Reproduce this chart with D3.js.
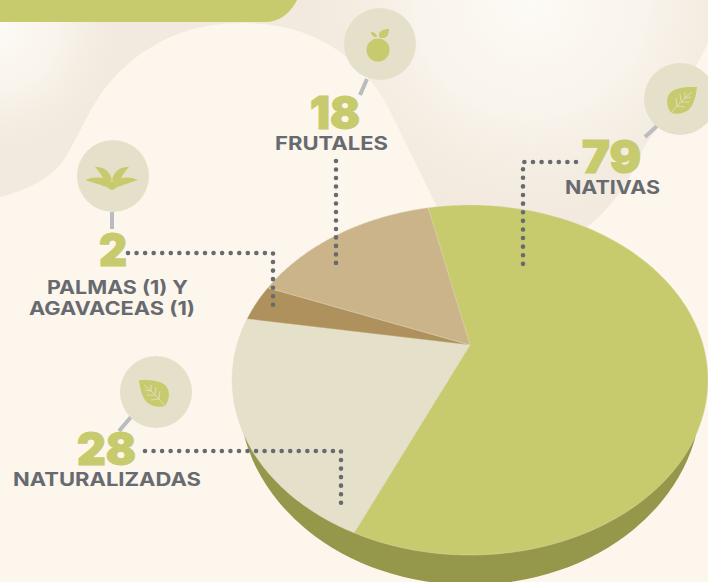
<!DOCTYPE html>
<html>
<head>
<meta charset="utf-8">
<script src="https://cdn.jsdelivr.net/npm/d3@7"></script>
<style>
html, body { margin: 0; padding: 0; background: #fdf6ed; overflow: hidden; }
svg { display: block; }
</style>
</head>
<body>
<svg id="chart" width="708" height="582"></svg>
<script>
const categories = ["NATIVAS", "NATURALIZADAS", "PALMAS", "FRUTALES"];
const labelValues = [79, 28, 2, 18];
// the slices as drawn, the artwork does not follow the counts exactly
const sliceShares = [60.1, 20.9, 3.4, 15.6];
const sliceColors = ["#c7ca6d", "#e5e0ca", "#ae915c", "#ccb48a"];

const numberBoxes = [[582, 641, 173], [77, 136, 465], [99, 127, 266], [310, 360, 129]]; // x0, x1, baseline
const labelLines = [
    [["NATIVAS", 565, 660, 194]],
    [["NATURALIZADAS", 13, 201, 486]],
    [["PALMAS (1) Y", 47, 188, 294], ["AGAVACEAS (1)", 29, 195, 315]],
    [["FRUTALES", 275, 388, 150]]
];
const leaders = [
    [[576, 162], [523, 162], [523, 264]],
    [[145, 451], [341, 451], [341, 503]],
    [[128, 253], [273, 253], [273, 305]],
    [[336, 161], [336, 263]]
];
const leaderGaps = [18, 29, 23, 12]; // dots along each leader, minus one
const iconSpots = [[680, 99], [156, 392], [113, 176], [380, 44]];
const stems = [[657, 126, 645, 137], [131, 417, 119, 431], [112, 212, 112, 229], [367, 79, 360, 95]];

const svg = d3.select("#chart");
const defs = svg.append("defs");

// background
const blob = "M0,0 L708,0 L708,43 C690,80 660,125 644,147 C630,180 615,205 587,227 L450,230 " +
    "C440,215 410,150 387,105 C365,65 320,22 240,23 C170,23 125,60 100,95 " +
    "C85,118 72,150 60,165 C45,182 20,192 0,197 Z";

function addGlow(id, cx, cy, r) {
    let g = defs.append("radialGradient").attr("id", id)
        .attr("gradientUnits", "userSpaceOnUse")
        .attr("cx", cx).attr("cy", cy).attr("r", r);
    g.append("stop").attr("offset", "0").attr("stop-color", "#fdfbf6").attr("stop-opacity", 1);
    g.append("stop").attr("offset", "0.5").attr("stop-color", "#fbf7f0").attr("stop-opacity", 0.75);
    g.append("stop").attr("offset", "1").attr("stop-color", "#f3ebdf").attr("stop-opacity", 0);
}
addGlow("glow_mid", 530, 0, 235);
addGlow("glow_left", -5, 28, 130);

svg.append("path").attr("d", blob).style("fill", "#f2eade");
svg.append("path").attr("d", blob).style("fill", "url(#glow_mid)");
svg.append("path").attr("d", blob).style("fill", "url(#glow_left)");

svg.append("path")
    .attr("d", "M0,0 L297,0 C290,14 279,22 265,22 L0,22 Z")
    .style("fill", "#c7ca6d");

// pie, a circle seen in perspective: apex sits above the middle of the ellipse
const pieX = 470, apexY = 345, sideR = 233.2, depthR = 99, tilt = -0.2;

function project(a) {
    let x = Math.sin(a), y = -Math.cos(a);
    let w = 1 + tilt * y;
    return [pieX + sideR * x / w, (apexY + depthR * y) / w];
}

svg.append("ellipse")
    .attr("cx", 470).attr("cy", 396).attr("rx", 231).attr("ry", 189)
    .style("fill", "#95974a");

const pie = d3.pie().sort(null)
    .startAngle(-12.4 * Math.PI / 180)
    .endAngle((360 - 12.4) * Math.PI / 180);
const line = d3.line();

function slicePath(d) {
    let steps = Math.ceil((d.endAngle - d.startAngle) / 0.01);
    let pts = [[pieX, apexY]];
    for (let i = 0; i <= steps; i++)
        pts.push(project(d.startAngle + (d.endAngle - d.startAngle) * i / steps));
    return line(pts) + "Z";
}

svg.append("g").selectAll("path")
    .data(pie(sliceShares))
    .join("path")
    .attr("d", slicePath)
    .style("fill", (d, i) => sliceColors[i])
    .style("stroke", "#e9e3c9")
    .style("stroke-width", 0.4);

// dotted leaders, spacing fitted so the last dot lands on the end of the path
function leaderLength(pts) {
    let len = 0;
    for (let i = 1; i < pts.length; i++)
        len += Math.abs(pts[i][0] - pts[i - 1][0]) + Math.abs(pts[i][1] - pts[i - 1][1]);
    return len;
}

svg.append("g").selectAll("path")
    .data(leaders)
    .join("path")
    .attr("d", d => line(d))
    .style("fill", "none")
    .style("stroke", "#676b6f")
    .style("stroke-width", 4.6)
    .style("stroke-linecap", "round")
    .style("stroke-dasharray", (d, i) => "0 " + (leaderLength(d) / leaderGaps[i] * 0.999));

// icon stems and discs
svg.append("g").selectAll("line")
    .data(stems)
    .join("line")
    .attr("x1", d => d[0]).attr("y1", d => d[1])
    .attr("x2", d => d[2]).attr("y2", d => d[3])
    .style("stroke", "#b9bdbf")
    .style("stroke-width", 4);

svg.append("g").selectAll("circle")
    .data(iconSpots)
    .join("circle")
    .attr("cx", d => d[0]).attr("cy", d => d[1]).attr("r", 36)
    .style("fill", "#e5e0ca");

// icons
const leafShape = "M17,-12 C7,-12 -4,-12 -10,-6 C-14,-1 -14,7 -9,14 C-2,16 7,14 11,8 C15,2 16,-5 17,-12 Z";
const leafVeins = "M-9,14 C-3,7 4,-1 12,-7 M-3,7 L-4,-1 M1,2 L0,-5 M5,-1 L5,-7 M-3,7 L5,8 M1,3 L9,3 M5,-1 L11,-2";

function drawLeaf(pos, flip) {
    let g = svg.append("g")
        .attr("transform", "translate(" + pos[0] + "," + pos[1] + ") scale(" + flip + ",1)");
    g.append("path").attr("d", leafShape).style("fill", "#c7ca6d");
    g.append("path").attr("d", leafVeins)
        .style("fill", "none").style("stroke", "#e9e6d2").style("stroke-width", 0.7);
}
drawLeaf(iconSpots[0], 1);
drawLeaf(iconSpots[1], -1);

// palm
const palm = svg.append("g")
    .attr("transform", "translate(" + iconSpots[2][0] + "," + iconSpots[2][1] + ")")
    .style("fill", "#c7ca6d");
palm.append("path").attr("d", "M-18,-9 C-9,-10 -2,-4 -1,5 L-9,4 C-12,-2 -15,-6 -18,-9 Z");
palm.append("path").attr("d", "M16,-9 C7,-10 0,-4 -1,5 L7,4 C10,-2 13,-6 16,-9 Z");
palm.append("path").attr("d", "M-28,4 C-18,0 -8,1 -1,6 C6,1 16,0 25,4 C18,6 14,8 10,9 L8,10 L4,11 C2,13 0,14 -1,14 C-2,14 -4,13 -6,11 L-10,10 L-12,9 C-16,8 -21,6 -28,4 Z");

// fruit
const fruit = svg.append("g")
    .attr("transform", "translate(" + iconSpots[3][0] + "," + iconSpots[3][1] + ")")
    .style("fill", "#c7ca6d");
fruit.append("circle").attr("cx", -2).attr("cy", 6).attr("r", 11.5);
fruit.append("path").attr("d", "M-1,-7 C-2,-13 3,-15 9,-15 C9,-10 7,-6 3,-6 C1,-6 0,-6 -1,-7 Z");
fruit.append("path").attr("d", "M-3,-7 C-7,-7 -9,-9 -9,-12 C-6,-12 -3,-10 -3,-7 Z");

// numbers
svg.append("g").selectAll("text")
    .data(labelValues)
    .join("text")
    .attr("x", (d, i) => numberBoxes[i][0])
    .attr("y", (d, i) => numberBoxes[i][2])
    .attr("textLength", (d, i) => numberBoxes[i][1] - numberBoxes[i][0])
    .attr("lengthAdjust", "spacingAndGlyphs")
    .style("font-family", "Inter, 'Open Sans', sans-serif")
    .style("font-weight", 900)
    .style("font-size", "45px")
    .style("fill", "#c7ca6d")
    .style("stroke", "#c7ca6d")
    .style("stroke-width", 1.2)
    .text(d => d);

// category labels
svg.append("g").selectAll("text")
    .data(labelLines.flat())
    .join("text")
    .attr("x", d => d[1])
    .attr("y", d => d[3])
    .attr("textLength", d => d[2] - d[1])
    .attr("lengthAdjust", "spacingAndGlyphs")
    .style("font-family", "Inter, 'Open Sans', sans-serif")
    .style("font-weight", 700)
    .style("font-size", "18.5px")
    .style("fill", "#676b6f")
    .text(d => d[0]);
</script>
</body>
</html>
